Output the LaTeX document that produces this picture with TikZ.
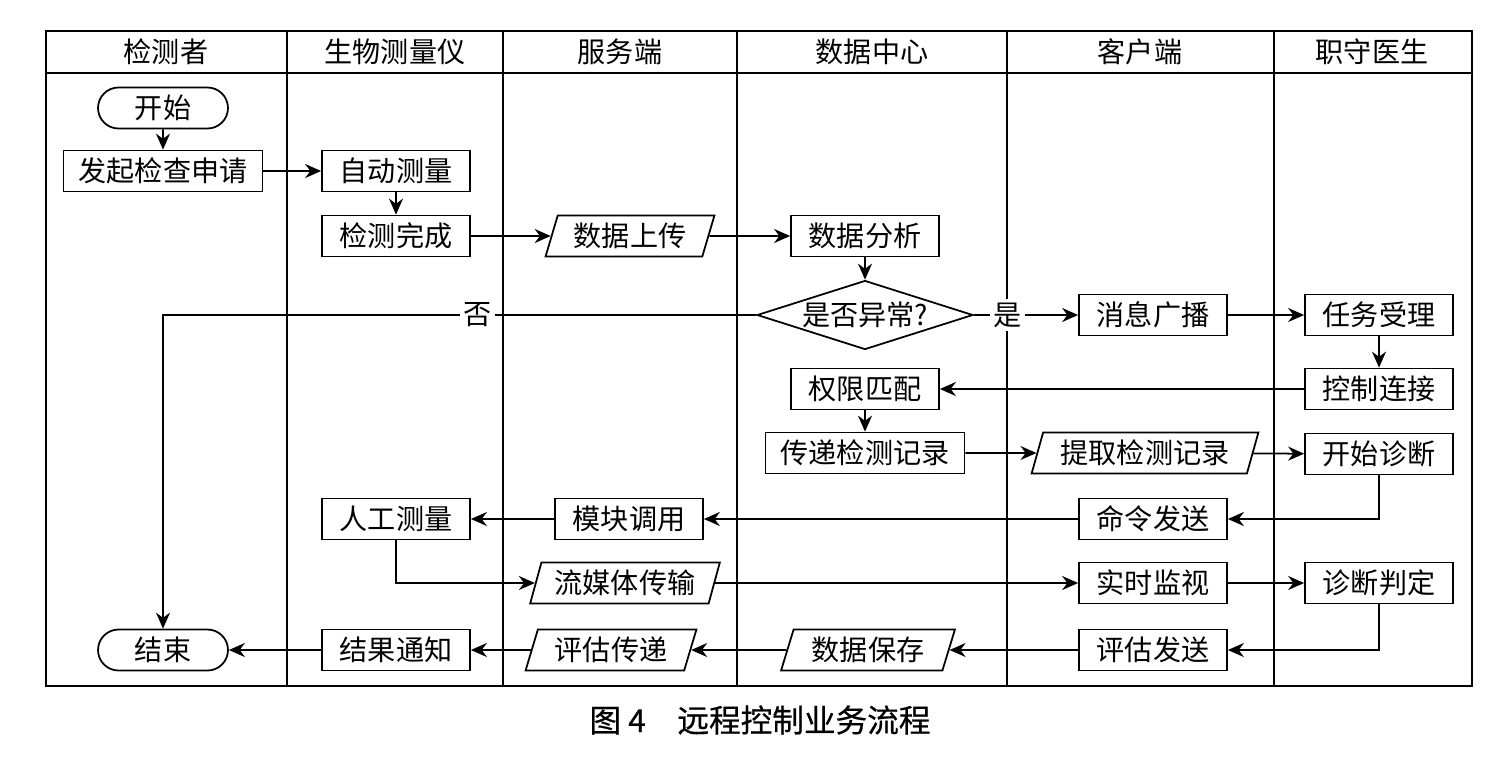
\documentclass[tikz,border=0pt]{standalone}
\usepackage{fontspec}
\setmainfont{Noto Sans CJK SC}
\usetikzlibrary{arrows.meta,shapes.geometric,shapes.misc}
\tikzset{every path/.style={line width=1pt},
  every node/.style={font=\fontsize{16}{18}\selectfont, inner sep=0pt},
  box/.style={draw, rectangle, minimum width=2.96cm, minimum height=0.82cm},
  widebox/.style={box, minimum width=3.98cm},
  iobox/.style={draw, trapezium, trapezium left angle=70, trapezium right angle=110,
                trapezium stretches=true, minimum height=0.82cm},
  term/.style={draw, rounded rectangle, minimum width=2.6cm, minimum height=0.82cm},
  decide/.style={draw, diamond, shape aspect=3.1, minimum width=4.32cm, minimum height=1.38cm},
  flow/.style={-{Stealth[length=0.32cm,width=0.28cm]}},
  tag/.style={fill=white, inner sep=2pt}}

\begin{document}
\begin{tikzpicture}[x=0.02cm, y=-0.02cm]
  \useasboundingbox (0,0) rectangle (1500,762);
  % lanes
  \draw[line width=1.2pt] (46,31) rectangle (1472,686);
  \draw (46,73) -- (1472,73);
  \foreach \x in {287,503,737,1007,1274} \draw (\x,31) -- (\x,686);
  \foreach \x/\t [count=\i] in {166/检测者, 395/生物测量仪, 620/服务端, 872/数据中心, 1140/客户端, 1372/职守医生}
    \node (h\i) at (\x,52) {\t};

  % steps
  \node[term]     (start)     at ( 163,108) {开始};
  \node[widebox]  (apply)     at ( 163,171) {发起检查申请};
  \node[box]      (automeas)  at ( 396,171) {自动测量};
  \node[box]      (done)      at ( 396,236) {检测完成};
  \node[iobox, minimum width=3.4cm]  (upload) at ( 630,236) {数据上传};
  \node[box]      (analyse)   at ( 865,236) {数据分析};
  \node[decide]   (abnormal)  at ( 865,315) {是否异常?};
  \node[box]      (broadcast) at (1153,315) {消息广播};
  \node[box]      (accept)    at (1379,315) {任务受理};
  \node[box]      (connect)   at (1379,389) {控制连接};
  \node[box]      (match)     at ( 865,389) {权限匹配};
  \node[widebox]  (pass)      at ( 865,453) {传递检测记录};
  \node[iobox, minimum width=4.54cm] (fetch)  at (1145,453) {提取检测记录};
  \node[box]      (diagnose)  at (1379,454) {开始诊断};
  \node[box]      (command)   at (1153,519) {命令发送};
  \node[box]      (invoke)    at ( 629,519) {模块调用};
  \node[box]      (manual)    at ( 396,519) {人工测量};
  \node[iobox, minimum width=3.8cm]  (stream) at ( 625,583) {流媒体传输};
  \node[box]      (monitor)   at (1153,583) {实时监视};
  \node[box]      (judge)     at (1379,583) {诊断判定};
  \node[box]      (evalsend)  at (1153,650) {评估发送};
  \node[iobox, minimum width=3.5cm]  (save)     at ( 868,650) {数据保存};
  \node[iobox, minimum width=3.44cm] (evalpass) at ( 611,650) {评估传递};
  \node[box]      (notify)    at ( 396,650) {结果通知};
  \node[term]     (stop)      at ( 163,650) {结束};
  \coordinate (nobend) at (stop |- abnormal);

  % flow
  \draw[flow] (start) -- (apply);
  \draw[flow] (apply) -- (automeas);
  \draw[flow] (automeas) -- (done);
  \draw[flow] (done) -- (upload);
  \draw[flow] (upload) -- (analyse);
  \draw[flow] (analyse) -- (abnormal);
  \draw[flow] (abnormal) -- node[tag, pos=0.47] {否} (nobend) -- (stop);
  \draw[flow] (abnormal) -- node[tag, pos=0.32] {是} (broadcast);
  \draw[flow] (broadcast) -- (accept);
  \draw[flow] (accept) -- (connect);
  \draw[flow] (connect) -- (match);
  \draw[flow] (match) -- (pass);
  \draw[flow] (pass) -- (fetch);
  \draw[flow] (fetch) -- (diagnose);
  \draw[flow] (diagnose) |- (command);
  \draw[flow] (command) -- (invoke);
  \draw[flow] (invoke) -- (manual);
  \draw[flow] (manual) |- (stream);
  \draw[flow] (stream) -- (monitor);
  \draw[flow] (monitor) -- (judge);
  \draw[flow] (judge) |- (evalsend);
  \draw[flow] (evalsend) -- (save);
  \draw[flow] (save) -- (evalpass);
  \draw[flow] (evalpass) -- (notify);
  \draw[flow] (notify) -- (stop);

  \node[font=\fontsize{18}{20}\selectfont\addfontfeatures{FakeBold=0.6}] (cap) at (760,720)
    {图 4\hspace{1em}远程控制业务流程};
\end{tikzpicture}
\end{document}
